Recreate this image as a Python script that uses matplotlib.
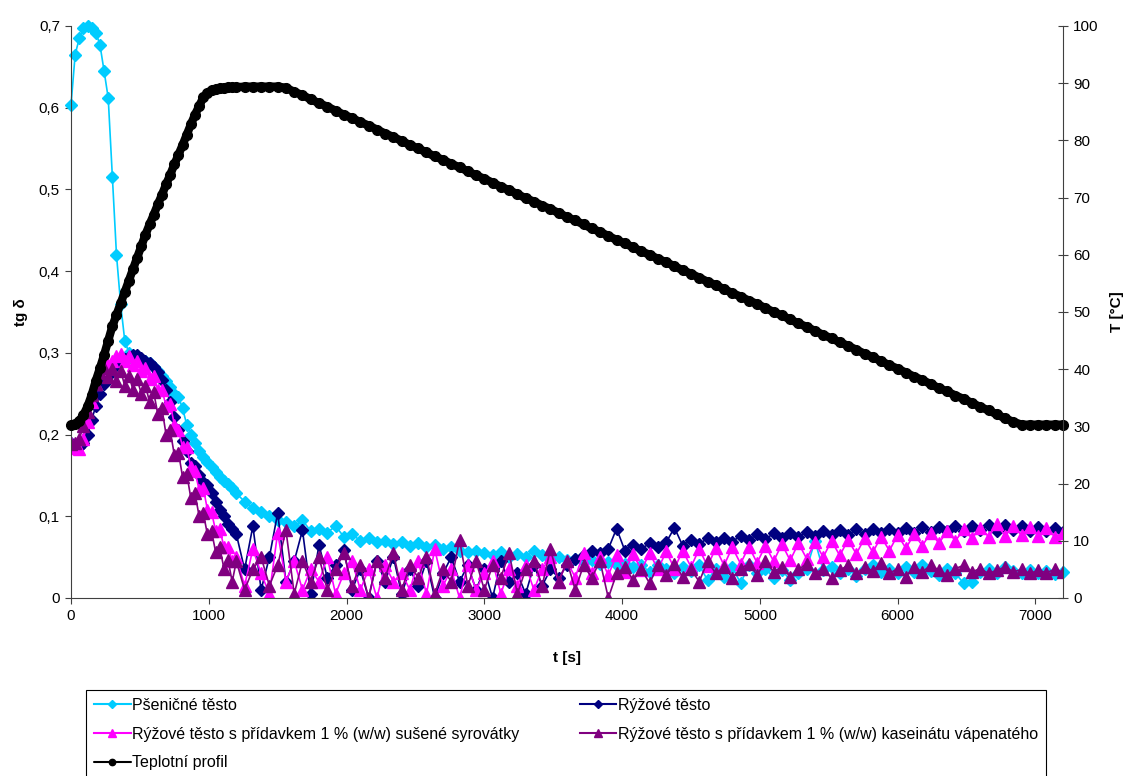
import numpy as np
import matplotlib
matplotlib.use("Agg")
import matplotlib.pyplot as plt
from matplotlib.ticker import FuncFormatter, MultipleLocator

plt.rcParams['font.family'] = ['Liberation Sans', 'DejaVu Sans']

# Time grid: every 30 s up to 1170 s, then every 60 s up to 7200 s
t_early = np.arange(0, 1200, 30)
t_late = np.arange(1200, 7201, 60)
t = np.concatenate([t_early, t_late])

# tg delta values (left axis)
psenicne = [
    0.603, 0.665, 0.685, 0.697, 0.700, 0.698, 0.692, 0.677, 0.645, 0.612,
    0.515, 0.420, 0.360, 0.315, 0.300, 0.296, 0.293, 0.292, 0.290, 0.287,
    0.283, 0.278, 0.272, 0.265, 0.258, 0.250, 0.246, 0.232, 0.212, 0.200,
    0.190, 0.180, 0.173, 0.166, 0.160, 0.154, 0.148, 0.143, 0.140, 0.134,
    # from 1200 s
    0.128, 0.118, 0.110, 0.105, 0.100, 0.095, 0.093, 0.088, 0.095, 0.082,
    0.085, 0.080, 0.088, 0.075, 0.078, 0.070, 0.074, 0.068, 0.070, 0.066,
    0.068, 0.064, 0.067, 0.062, 0.065, 0.060, 0.063, 0.058, 0.056, 0.058,
    0.055, 0.052, 0.056, 0.050, 0.054, 0.050, 0.058, 0.052, 0.048, 0.050,
    0.046, 0.048, 0.044, 0.046, 0.042, 0.044, 0.040, 0.042, 0.038, 0.040,
    0.032, 0.040, 0.035, 0.030, 0.038, 0.033, 0.040, 0.022, 0.036, 0.026,
    0.038, 0.018, 0.040, 0.030, 0.036, 0.025, 0.034, 0.022, 0.030, 0.036,
    0.070, 0.034, 0.038, 0.030, 0.036, 0.027, 0.035, 0.040, 0.032, 0.036,
    0.030, 0.038, 0.032, 0.040, 0.033, 0.028, 0.036, 0.030, 0.018, 0.020,
    0.032, 0.036, 0.030, 0.038, 0.033, 0.030, 0.034, 0.030, 0.033, 0.029,
    0.032,
]

ryzove = [
    0.190, 0.186, 0.185, 0.190, 0.200, 0.218, 0.235, 0.250, 0.262, 0.272,
    0.280, 0.285, 0.290, 0.293, 0.295, 0.297, 0.297, 0.294, 0.290, 0.287,
    0.283, 0.276, 0.267, 0.255, 0.240, 0.222, 0.205, 0.192, 0.180, 0.165,
    0.162, 0.150, 0.142, 0.138, 0.128, 0.118, 0.108, 0.100, 0.090, 0.085,
    # from 1200 s
    0.078, 0.035, 0.088, 0.010, 0.050, 0.104, 0.020, 0.045, 0.083, 0.005,
    0.065, 0.025, 0.040, 0.059, 0.010, 0.035, 0.000, 0.045, 0.020, 0.050,
    0.005, 0.035, 0.015, 0.045, 0.000, 0.030, 0.050, 0.020, 0.040, 0.010,
    0.035, 0.000, 0.045, 0.020, 0.030, 0.005, 0.040, 0.015, 0.035, 0.025,
    0.040, 0.048, 0.052, 0.058, 0.055, 0.060, 0.085, 0.058, 0.065, 0.060,
    0.067, 0.062, 0.068, 0.086, 0.064, 0.071, 0.066, 0.073, 0.068, 0.074,
    0.069, 0.076, 0.071, 0.078, 0.072, 0.079, 0.073, 0.080, 0.075, 0.081,
    0.076, 0.082, 0.077, 0.083, 0.077, 0.084, 0.078, 0.085, 0.079, 0.085,
    0.080, 0.086, 0.080, 0.087, 0.081, 0.087, 0.082, 0.088, 0.082, 0.088,
    0.083, 0.089, 0.082, 0.089, 0.083, 0.088, 0.082, 0.087, 0.082, 0.086,
    0.081,
]

ryzove_syrovatka = [
    0.190, 0.183, 0.182, 0.195, 0.215, 0.240, 0.262, 0.280, 0.292, 0.285,
    0.290, 0.296, 0.298, 0.290, 0.296, 0.285, 0.290, 0.278, 0.282, 0.268,
    0.272, 0.255, 0.255, 0.235, 0.238, 0.212, 0.205, 0.185, 0.185, 0.160,
    0.155, 0.132, 0.135, 0.108, 0.105, 0.082, 0.085, 0.062, 0.062, 0.045,
    # from 1200 s
    0.050, 0.015, 0.060, 0.030, 0.005, 0.080, 0.020, 0.045, 0.010, 0.035,
    0.020, 0.050, 0.005, 0.030, 0.045, 0.010, 0.035, 0.000, 0.040, 0.020,
    0.030, 0.010, 0.045, 0.005, 0.060, 0.015, 0.035, 0.000, 0.040, 0.010,
    0.030, 0.045, 0.005, 0.035, 0.015, 0.040, 0.010, 0.035, 0.050, 0.020,
    0.045, 0.025, 0.055, 0.030, 0.050, 0.028, 0.052, 0.032, 0.054, 0.034,
    0.055, 0.035, 0.057, 0.036, 0.058, 0.038, 0.060, 0.039, 0.061, 0.040,
    0.062, 0.042, 0.063, 0.043, 0.064, 0.045, 0.066, 0.046, 0.067, 0.048,
    0.068, 0.050, 0.070, 0.052, 0.071, 0.054, 0.073, 0.056, 0.075, 0.058,
    0.077, 0.061, 0.078, 0.064, 0.080, 0.067, 0.082, 0.070, 0.084, 0.073,
    0.086, 0.075, 0.090, 0.076, 0.088, 0.077, 0.087, 0.076, 0.086, 0.075,
    0.079,
]

ryzove_kaseinat = [
    0.188, 0.190, 0.195, 0.210, 0.228, 0.248, 0.262, 0.275, 0.282, 0.270,
    0.280, 0.265, 0.278, 0.260, 0.272, 0.255, 0.268, 0.250, 0.260, 0.240,
    0.252, 0.225, 0.232, 0.200, 0.205, 0.175, 0.178, 0.148, 0.152, 0.122,
    0.128, 0.100, 0.104, 0.078, 0.082, 0.056, 0.062, 0.036, 0.046, 0.020,
    # from 1200 s
    0.045, 0.010, 0.035, 0.050, 0.015, 0.040, 0.083, 0.005, 0.045, 0.020,
    0.050, 0.010, 0.035, 0.055, 0.015, 0.040, 0.000, 0.045, 0.025, 0.055,
    0.010, 0.040, 0.025, 0.050, 0.005, 0.035, 0.020, 0.071, 0.015, 0.045,
    0.010, 0.040, 0.025, 0.055, 0.005, 0.035, 0.045, 0.015, 0.060, 0.020,
    0.045, 0.010, 0.040, 0.025, 0.045, 0.000, 0.030, 0.038, 0.022, 0.035,
    0.018, 0.040, 0.028, 0.042, 0.026, 0.035, 0.020, 0.045, 0.030, 0.038,
    0.025, 0.036, 0.042, 0.028, 0.045, 0.032, 0.038, 0.026, 0.035, 0.042,
    0.030, 0.036, 0.024, 0.034, 0.040, 0.030, 0.038, 0.033, 0.043, 0.030,
    0.036, 0.026, 0.038, 0.032, 0.040, 0.034, 0.028, 0.036, 0.040, 0.032,
    0.036, 0.030, 0.034, 0.038, 0.032, 0.035, 0.030, 0.034, 0.031, 0.035,
    0.032,
]

# temperature profile (right axis)
teplota = [
    30.2, 30.4, 31.0, 32.0, 33.5, 35.5, 38.0, 40.2, 42.5, 45.0,
    47.5, 49.5, 51.5, 53.5, 55.5, 57.5, 59.5, 61.5, 63.5, 65.3,
    67.0, 68.8, 70.5, 72.3, 74.0, 75.8, 77.5, 79.2, 81.0, 82.8,
    84.5, 86.0, 87.5, 88.3, 88.8, 89.0, 89.1, 89.2, 89.3, 89.3,
    # from 1200 s
    89.3, 89.4, 89.4, 89.4, 89.4, 89.4, 89.2, 88.5, 87.9, 87.2,
    86.5, 85.9, 85.2, 84.5, 83.9, 83.2, 82.6, 81.9, 81.2, 80.6,
    79.9, 79.2, 78.6, 77.9, 77.2, 76.6, 75.9, 75.3, 74.6, 73.9,
    73.3, 72.6, 71.9, 71.3, 70.6, 69.9, 69.3, 68.6, 68.0, 67.3,
    66.6, 66.0, 65.3, 64.6, 64.0, 63.3, 62.6, 62.0, 61.3, 60.6,
    60.0, 59.3, 58.7, 58.0, 57.3, 56.7, 56.0, 55.3, 54.7, 54.0,
    53.3, 52.7, 52.0, 51.4, 50.7, 50.0, 49.4, 48.7, 48.0, 47.4,
    46.7, 46.0, 45.4, 44.7, 44.1, 43.4, 42.7, 42.1, 41.4, 40.7,
    40.1, 39.4, 38.7, 38.1, 37.4, 36.7, 36.1, 35.4, 34.8, 34.1,
    33.4, 32.8, 32.1, 31.4, 30.8, 30.3, 30.3, 30.3, 30.3, 30.3,
    30.3,
]

labels = [
    "Pšeničné těsto",
    "Rýžové těsto",
    "Rýžové těsto s přídavkem 1 % (w/w) sušené syrovátky",
    "Rýžové těsto s přídavkem 1 % (w/w) kaseinátu vápenatého",
    "Teplotní profil",
]

# Figure and axes
fig = plt.figure(figsize=(11.29, 7.76), dpi=100)
ax = fig.add_axes([0.0629, 0.2294, 0.8786, 0.7371])
ax2 = ax.twinx()

h_psen, = ax.plot(t[:len(psenicne)], psenicne, color="#00CCFF", lw=1.2,
                  marker="D", ms=6, mec="#00CCFF", clip_on=False)
h_ryz, = ax.plot(t[:len(ryzove)], ryzove, color="#000080", lw=1.2,
                 marker="D", ms=6, mec="#000080")
h_syr, = ax.plot(t[:len(ryzove_syrovatka)], ryzove_syrovatka,
                 color="#FF00FF", lw=1.2, marker="^", ms=8, mec="#FF00FF")
h_kas, = ax.plot(t[:len(ryzove_kaseinat)], ryzove_kaseinat,
                 color="#800080", lw=1.2, marker="^", ms=8, mec="#800080")
h_tep, = ax2.plot(t[:len(teplota)], teplota, color="black", lw=6,
                  marker="o", ms=7, clip_on=False, solid_capstyle="round")

# Axes styling
ax.set_xlim(0, 7200)
ax.set_ylim(0, 0.7)
ax2.set_ylim(0, 100)

ax.xaxis.set_major_locator(MultipleLocator(1000))
ax.yaxis.set_major_locator(MultipleLocator(0.1))
ax2.yaxis.set_major_locator(MultipleLocator(10))
ax.yaxis.set_major_formatter(FuncFormatter(
    lambda v, p: "0" if abs(v) < 1e-9 else f"{v:.1f}".replace(".", ",")))

axis_color = "#404040"
for s in ["top", "right"]:
    ax.spines[s].set_visible(False)
for s in ["top", "left", "bottom"]:
    ax2.spines[s].set_visible(False)
for s in ["left", "bottom"]:
    ax.spines[s].set_color(axis_color)
ax2.spines["right"].set_color(axis_color)

ax.tick_params(axis="both", direction="out", length=4, color=axis_color,
               labelsize=11, pad=4)
ax2.tick_params(axis="y", direction="inout", length=7, color=axis_color,
                labelsize=11, pad=4)

ax.set_xlabel("t [s]", fontsize=11, fontweight="bold", labelpad=20)
ax.set_ylabel("tg δ", fontsize=11, fontweight="bold", labelpad=8)
ax2.set_ylabel("T [°C]", fontsize=11, fontweight="bold", labelpad=8)

# Legend (Excel-like box below the plot)
handles = [h_psen, h_syr, h_tep, h_ryz, h_kas]
leg_labels = [labels[0], labels[2], labels[4], labels[1], labels[3]]
leg = fig.legend(handles, leg_labels, loc="upper left",
                 bbox_to_anchor=(0.0762, 0.0, 0.8503, 0.1108), mode="expand",
                 ncol=2, borderaxespad=0, fontsize=11.5, numpoints=1,
                 handlelength=2.3, handletextpad=0.1, labelspacing=0.85,
                 borderpad=0.5, markerscale=0.65, fancybox=False,
                 framealpha=1, edgecolor="black")
leg.get_frame().set_linewidth(0.8)
for line in leg.get_lines():
    line.set_linewidth(1.5)

fig.savefig("out.png", dpi=100)
